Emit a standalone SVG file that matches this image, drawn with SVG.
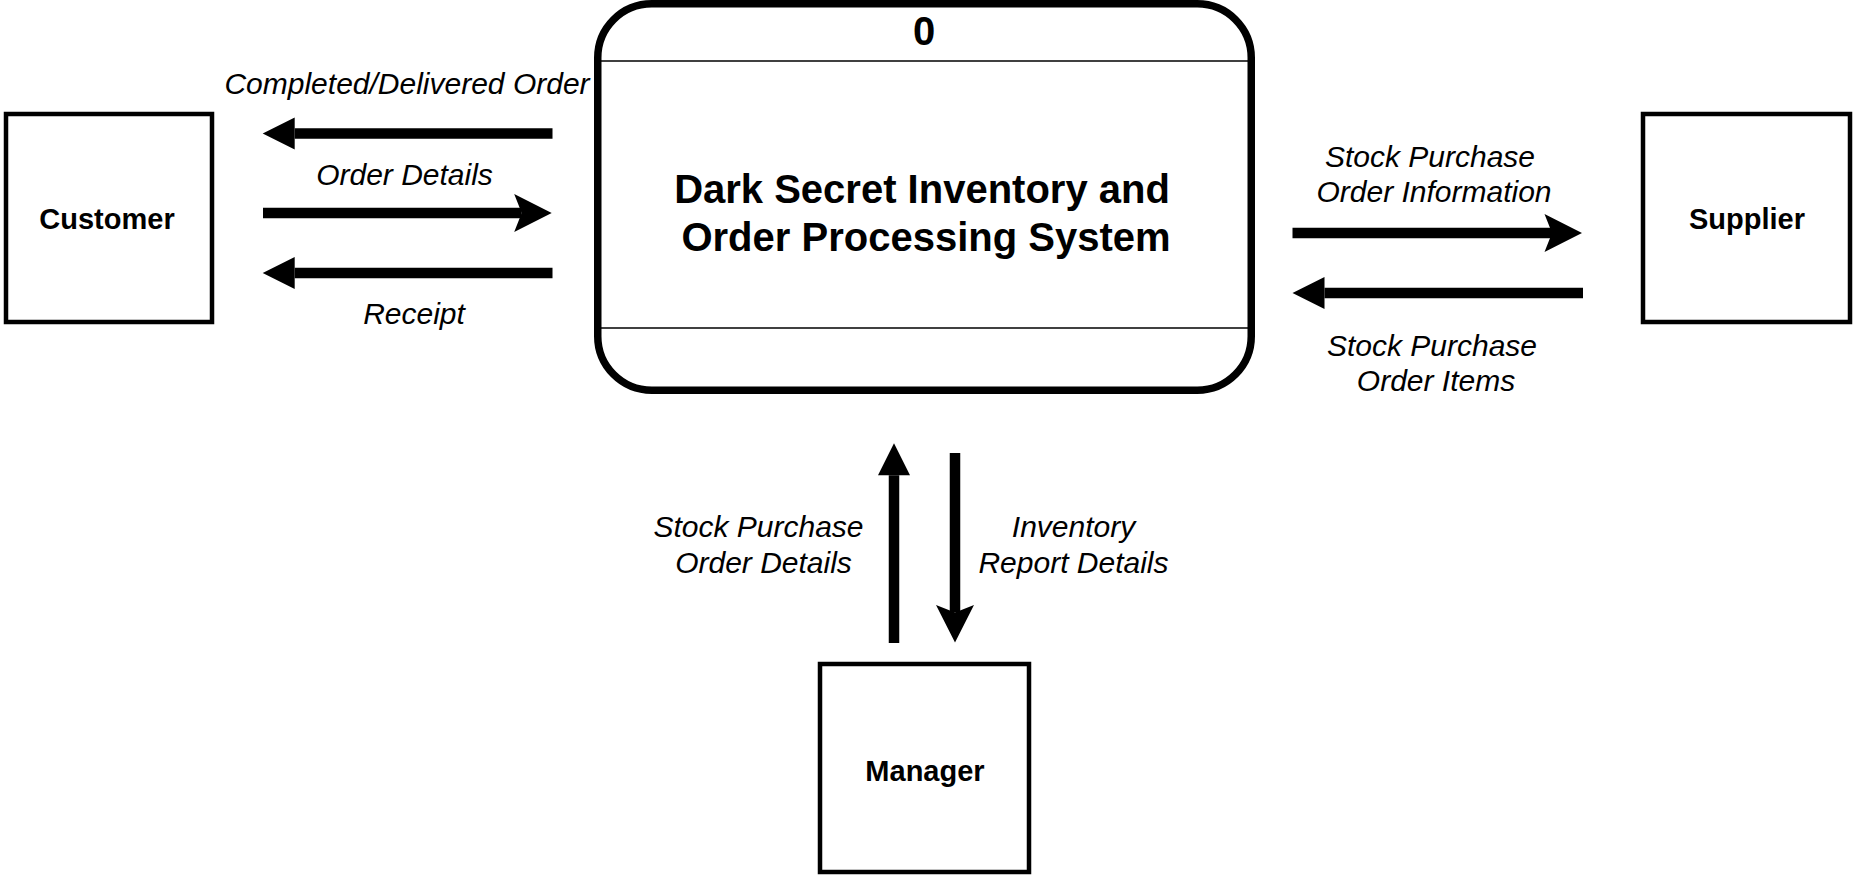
<svg xmlns="http://www.w3.org/2000/svg" width="1855" height="876" viewBox="0 0 1855 876">
<defs>
<style>
.box{fill:#fff;stroke:#000;stroke-width:4.5}
.proc{fill:#fff;stroke:#000;stroke-width:7.5}
.div{stroke:#000;stroke-width:1.5}
.node{font-family:"Liberation Sans",Arial,sans-serif;font-weight:bold;font-size:29px;fill:#000;text-anchor:middle}
.title{font-family:"Liberation Sans",Arial,sans-serif;font-weight:bold;font-size:40px;fill:#000;text-anchor:middle}
.lbl{font-family:"Liberation Sans",Arial,sans-serif;font-style:italic;font-size:30px;fill:#000;text-anchor:middle}
.flow{stroke:#000;stroke-width:10.5;fill:none}
</style>
<marker id="hs" markerUnits="userSpaceOnUse" markerWidth="33" markerHeight="33" refX="0" refY="16" orient="auto" overflow="visible"><path d="M0,0 L32,16 L0,32 z" fill="#000"/></marker>
<marker id="hl" markerUnits="userSpaceOnUse" markerWidth="38" markerHeight="39" refX="7.5" refY="19" orient="auto" overflow="visible"><path d="M0,0 L37.5,19 L0,38 L7.5,19 z" fill="#000"/></marker>
</defs>
<rect width="1855" height="876" fill="#fff"/>
<g id="process">
<rect class="proc" x="597.75" y="3.75" width="653.5" height="386.5" rx="54" ry="54"/>
<line class="div" x1="601" y1="61" x2="1248" y2="61"/>
<line class="div" x1="601" y1="328" x2="1248" y2="328"/>
<text class="title" x="924" y="45">0</text>
<text class="title" x="922" y="203">Dark Secret Inventory and</text>
<text class="title" x="926" y="251">Order Processing System</text>
</g>
<g id="customer">
<rect class="box" x="6" y="114" width="206" height="208"/>
<text class="node" x="107" y="229">Customer</text>
</g>
<g id="supplier">
<rect class="box" x="1643" y="114" width="207" height="208"/>
<text class="node" x="1747" y="229">Supplier</text>
</g>
<g id="manager">
<rect class="box" x="820" y="664" width="209" height="208"/>
<text class="node" x="925" y="781">Manager</text>
</g>
<g id="connectors">
<line class="flow" x1="552.5" y1="133.5" x2="294.7" y2="133.5" marker-end="url(#hs)"/>
<line class="flow" x1="263" y1="213" x2="521.7" y2="213" marker-end="url(#hl)"/>
<line class="flow" x1="552.5" y1="273" x2="294.7" y2="273" marker-end="url(#hs)"/>
<line class="flow" x1="1292.5" y1="233" x2="1552" y2="233" marker-end="url(#hl)"/>
<line class="flow" x1="1583" y1="293" x2="1324.5" y2="293" marker-end="url(#hs)"/>
<line class="flow" x1="894" y1="643" x2="894" y2="475.3" marker-end="url(#hs)"/>
<line class="flow" x1="955" y1="453" x2="955" y2="612.5" marker-end="url(#hl)"/>
<text class="lbl" x="407" y="94">Completed/Delivered Order</text>
<text class="lbl" x="404.5" y="185">Order Details</text>
<text class="lbl" x="414" y="324">Receipt</text>
<text class="lbl" x="1430" y="167">Stock Purchase</text>
<text class="lbl" x="1434" y="202">Order Information</text>
<text class="lbl" x="1432" y="356">Stock Purchase</text>
<text class="lbl" x="1436" y="391">Order Items</text>
<text class="lbl" x="758.5" y="537">Stock Purchase</text>
<text class="lbl" x="763.5" y="573">Order Details</text>
<text class="lbl" x="1073.5" y="537">Inventory</text>
<text class="lbl" x="1073.5" y="573">Report Details</text>
</g>
</svg>
